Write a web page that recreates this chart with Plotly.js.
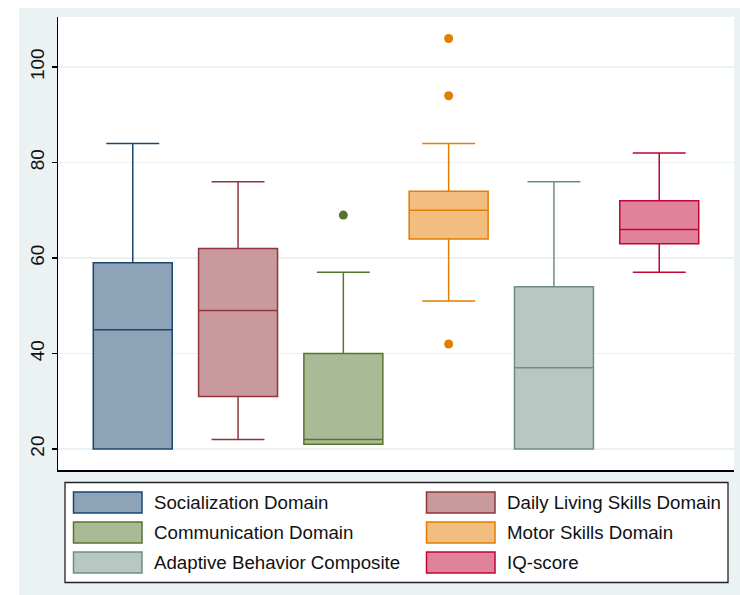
<!DOCTYPE html>
<html>
<head>
<meta charset="utf-8">
<script src="https://cdn.plot.ly/plotly-3.0.1.min.js"></script>
<style>
  html, body { margin: 0; padding: 0; background: #ffffff; }
  #chart { position: absolute; left: 19px; top: 8px; width: 721px; height: 587px; }
</style>
</head>
<body>
<div id="chart"></div>
<script>
// ---- Data ----
const categories = ["Socialization Domain", "Daily Living Skills Domain", "Communication Domain",
                    "Motor Skills Domain", "Adaptive Behavior Composite", "IQ-score"];
const lowerWhisker = [20, 22, 21, 51, 20, 57];
const q1Values     = [20, 31, 21, 64, 20, 63];
const medians      = [45, 49, 22, 70, 37, 66];
const q3Values     = [59, 62, 40, 74, 54, 72];
const upperWhisker = [84, 76, 57, 84, 76, 82];
const outliers     = [[], [], [69], [106, 94, 42], [], []];
const yTickValues  = [20, 40, 60, 80, 100];
const yTickLabels  = ["20", "40", "60", "80", "100"];

// ---- Styles ----
const lineColors = ["#1a476f", "#90353b", "#55752f", "#e37e00", "#6e8e84", "#c10534"];
const fillColors = ["#8da3b7", "#c89a9d", "#aaba97", "#f1be80", "#b7c7c2", "#e0829a"];
const bgColor = "#eaf2f3";

const traces = [];
categories.forEach((c, i) => {
  traces.push({
    type: "box",
    name: c,
    x: [c],
    q1: [q1Values[i]],
    median: [medians[i]],
    q3: [q3Values[i]],
    lowerfence: [lowerWhisker[i]],
    upperfence: [upperWhisker[i]],
    boxpoints: false,
    width: 0.75,
    whiskerwidth: 0.67,
    fillcolor: fillColors[i],
    line: { color: lineColors[i], width: 1.5 },
    showlegend: false,
    hoverinfo: "y"
  });
});
categories.forEach((c, i) => {
  if (outliers[i].length) {
    traces.push({
      type: "scatter",
      mode: "markers",
      x: outliers[i].map(() => c),
      y: outliers[i],
      marker: { color: lineColors[i], size: 9, symbol: "circle" },
      showlegend: false,
      hoverinfo: "y"
    });
  }
});

// ---- Layout geometry (div pixels) ----
const W = 721, H = 587;
const M = { l: 39, r: 6, t: 9, b: 125 };
const PW = W - M.l - M.r, PH = H - M.t - M.b;
const px = v => (v - M.l) / PW;
const py = v => (H - M.b - v) / PH;

const shapes = [];
const annotations = [];
// legend frame
shapes.push({ type: "rect", xref: "paper", yref: "paper",
  x0: px(46), x1: px(709), y0: py(574.5), y1: py(474.5),
  fillcolor: "#ffffff", line: { color: "#222222", width: 1.3 } });
categories.forEach((c, i) => {
  const col = i % 2, row = Math.floor(i / 2);
  const sx0 = col === 0 ? 54.5 : 407.5;
  const sx1 = sx0 + 68.5;
  const cy = 494.5 + row * 30;
  shapes.push({ type: "rect", xref: "paper", yref: "paper",
    x0: px(sx0), x1: px(sx1), y0: py(cy + 10.5), y1: py(cy - 10.5),
    fillcolor: fillColors[i], line: { color: lineColors[i], width: 1.5 } });
  annotations.push({ xref: "paper", yref: "paper",
    x: px(sx1 + 10), y: py(cy), xanchor: "left", yanchor: "middle",
    text: c, showarrow: false,
    font: { family: "Liberation Sans, Arial, sans-serif", size: 18.7, color: "#111111" } });
});

const layout = {
  width: W, height: H,
  margin: M,
  paper_bgcolor: bgColor,
  plot_bgcolor: "#ffffff",
  showlegend: false,
  xaxis: {
    type: "category",
    range: [-0.71, 5.71],
    showticklabels: false,
    ticks: "",
    showgrid: false,
    zeroline: false,
    showline: true,
    linecolor: "#000000",
    linewidth: 1.5,
    fixedrange: true
  },
  yaxis: {
    range: [15.59, 110.5],
    tickvals: yTickValues,
    ticktext: yTickLabels,
    tickangle: -90,
    ticks: "outside",
    ticklen: 5,
    tickwidth: 1.5,
    tickcolor: "#000000",
    showgrid: true,
    gridcolor: bgColor,
    gridwidth: 1.5,
    zeroline: false,
    showline: true,
    linecolor: "#000000",
    linewidth: 1.5,
    tickfont: { family: "Liberation Sans, Arial, sans-serif", size: 19, color: "#111111" },
    fixedrange: true
  },
  shapes: shapes,
  annotations: annotations
};

Plotly.newPlot("chart", traces, layout, { displayModeBar: false, staticPlot: true });
</script>
</body>
</html>
